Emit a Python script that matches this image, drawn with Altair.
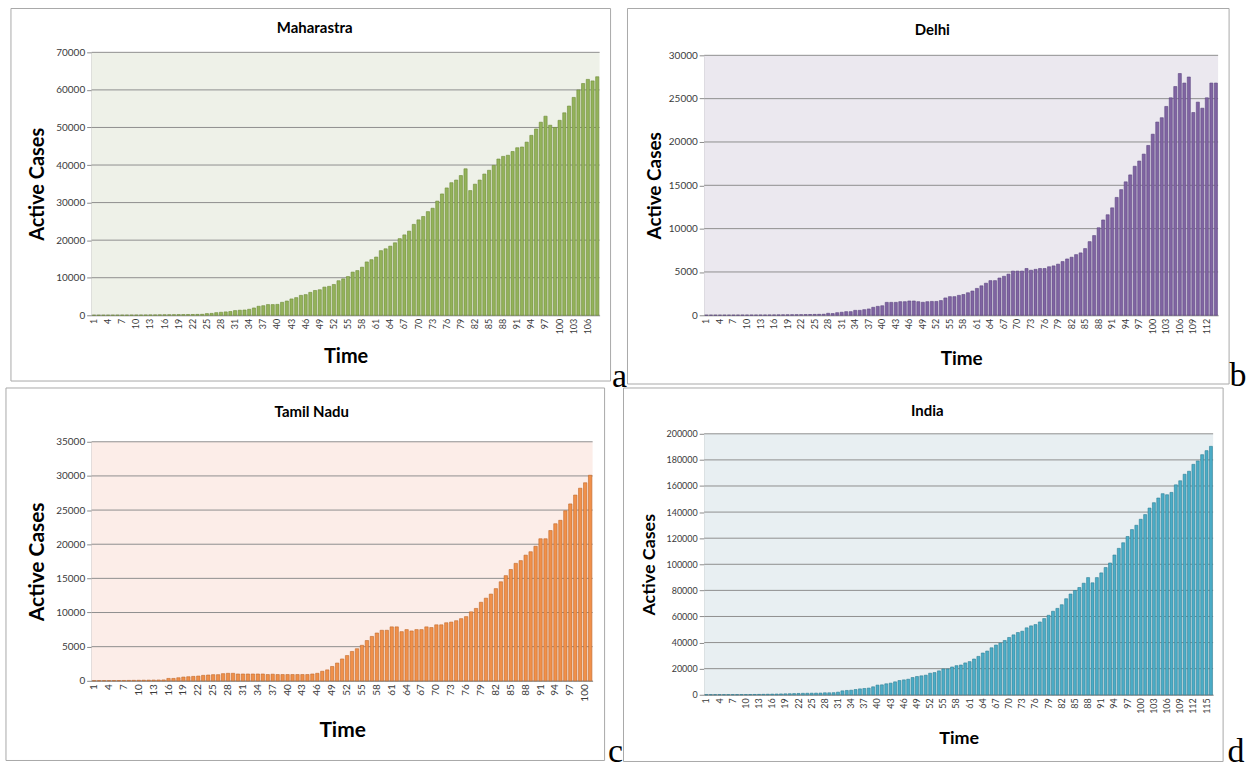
import altair as alt
import pandas as pd

# Daily active cases, one value per day since the first case
maharashtra = [
    10, 12, 15, 20, 25, 30, 35, 40, 45, 55, 65, 75, 90, 100, 115, 125, 140, 150, 165, 180, 195, 210, 230, 260,
    450, 500, 700, 800, 900, 1000, 1250, 1350, 1400, 1600, 1950, 2400, 2550, 2850, 2850, 2900, 3450, 3800, 4350, 4700,
    5300, 5500, 6100, 6600, 6800, 7500, 7700, 8200, 9200, 9700, 10300, 11500, 11900, 12800, 14200,
    14800, 15500, 17200, 17700, 18400, 19300, 20400, 21400, 22400, 24200, 25400, 26300, 27600, 28500, 30400,
    32300, 33900, 35300, 36000, 37200, 39000, 33200, 34900, 36000, 37600, 38600, 39900, 41600, 42300, 42600,
    43600, 44600, 44800, 46100, 47900, 49600, 51400, 53000, 50600, 50000, 51900, 53900, 55700, 58000, 60000,
    61700, 62800, 62400, 63500,
]
delhi = [
    10, 10, 12, 12, 15, 15, 18, 20, 22, 25, 25, 28, 30, 32, 35, 40, 45, 50, 55, 60, 65, 70, 80, 90, 100, 110, 120,
    230, 200, 300, 350, 420, 420, 570, 570, 650, 730, 920, 1030, 1100, 1490, 1490, 1490, 1570, 1570, 1650, 1650,
    1570, 1500, 1570, 1600, 1600,
    1700, 2000, 2150, 2150, 2300, 2400, 2600, 2800, 3100, 3400, 3700, 4000, 4000, 4300, 4500, 4750, 5100, 5100,
    5100, 5400, 5200, 5300, 5400, 5400, 5600, 5700, 5900, 6200, 6500, 6700, 7000, 7200, 7700, 8500, 9200, 10100,
    11000, 11600, 12400, 13600, 14500, 15400, 16200, 17200, 17800, 18600, 19600, 20900, 22300, 22800, 24100,
    25100, 26400, 27900, 26800, 27500, 23400, 24600, 23900, 25100, 26800, 26800,
]
tamil_nadu = [
    15, 20, 25, 30, 35, 40, 50, 60, 70, 80, 90, 100, 110, 120, 130,
    350, 350, 450, 550, 600, 650, 700, 800, 850, 900, 900, 1050, 1100, 1100, 1000, 1000, 1000, 1000, 1000, 1000,
    920, 970, 920, 920, 920, 920, 920,
    920, 920, 1000, 1100, 1400, 1600, 2100, 2600, 3200, 3700, 4300, 4700, 5200, 5900, 6500, 7000, 7400, 7400,
    7900, 7900, 7200, 7500, 7300, 7500, 7500, 7900, 7800, 8200, 8200, 8500, 8600, 8800, 9100, 9400, 10100, 10600,
    11500, 12100, 12700, 13500, 14500, 15400, 16300, 17200, 17600, 18400, 18900, 19700, 20800, 20800, 22000,
    23000, 23500, 24900, 25900, 27200, 28200, 29000, 30100,
]
india = [
    30, 40, 50, 60, 70, 80, 100, 110, 130, 150, 180, 220, 280, 330, 400, 480, 560, 640, 720, 800, 900, 1000,
    1100, 1150, 1200, 1250,
    1300, 1500, 1500, 1600, 2000, 3000, 3300, 3500, 4000, 4500, 4800, 5100, 6100, 7400, 7600, 8400, 8900, 9900,
    10900, 11400, 11900, 13200, 14000,
    14500, 15000, 16500, 17000, 18300, 19800, 19800, 21300, 22300, 22800, 24400, 25400, 27400, 29400, 32000,
    33500, 36000, 38100, 39600, 41600, 43900, 45900, 47700, 48700, 51300, 52800, 53800, 55800, 58400, 60900,
    64000, 66200, 69000, 73600, 77200, 79900, 82200, 85500, 89800, 85800, 89800, 93400, 97500, 101000, 107100,
    112200, 116500, 121300, 126600, 129900, 134500, 138100, 143100, 147200, 150800, 154100, 153300, 155100,
    160900, 164000, 169000, 171300, 176600, 179200, 184000, 187100, 190400,
]

FONT = "Lato"
GRID = "#8e8e8e"
AXIS = "#8a8a8a"
LABEL = "#3a3a3a"
FRAME = "#a8a8a8"


def panel(name, values, fill, edge, bg, ymax, ystep, width, height, top,
          title_size, label_size, xlabel_size, ytitle_pad, xtitle_pad, frame, title_xy, letter, letter_xy):
    n = len(values)
    days = pd.DataFrame({"Time": list(range(1, n + 1)), "Active Cases": values})
    ticks = list(range(0, ymax + 1, ystep))
    one = pd.DataFrame({"k": [0]})
    yscale = alt.Scale(domain=[0, ymax], range=[height, top], nice=False)
    yaxis = alt.Axis(
        values=ticks, format="d", grid=False, domainColor=AXIS, tickColor=AXIS, tickSize=5,
        labelFont=FONT, labelFontSize=label_size, labelColor=LABEL, labelPadding=2,
        title="Active Cases", titleFont=FONT, titleFontSize=title_size, titleFontWeight="bold",
        titleColor="black", titlePadding=ytitle_pad,
    )

    background = alt.Chart(one).mark_rect(fill=bg).encode(
        x=alt.value(0), x2=alt.value(width), y=alt.value(top), y2=alt.value(height)
    )
    grid = alt.Chart(pd.DataFrame({"tick": ticks})).mark_rule(color=GRID, strokeWidth=1).encode(
        y=alt.Y("tick:Q", scale=yscale, axis=yaxis),
        x=alt.value(0), x2=alt.value(width),
    )
    bars = alt.Chart(days).mark_bar(fill=fill, stroke=edge, strokeWidth=0.6).encode(
        x=alt.X(
            "Time:O",
            scale=alt.Scale(paddingInner=0.32, paddingOuter=0.16),
            axis=alt.Axis(
                values=list(range(1, n + 1, 3)), labelAngle=270, labelFont=FONT, labelFontSize=xlabel_size,
                labelColor=LABEL, labelPadding=3, labelOverlap=False, ticks=False, grid=False,
                domainColor=AXIS, title="Time", titleFont=FONT, titleFontSize=title_size,
                titleFontWeight="bold", titleColor="black", titlePadding=xtitle_pad,
            ),
        ),
        y=alt.Y("Active Cases:Q", scale=yscale, axis=yaxis),
    )
    border = alt.Chart(one).mark_rect(fillOpacity=0, stroke=FRAME, strokeWidth=1).encode(
        x=alt.value(frame[0]), y=alt.value(frame[1]), x2=alt.value(frame[2]), y2=alt.value(frame[3])
    )
    heading = alt.Chart(one).mark_text(
        text=name, font=FONT, fontWeight="bold", fontSize=15, color="black", align="center", baseline="middle"
    ).encode(x=alt.value(title_xy[0]), y=alt.value(title_xy[1]))
    tag = alt.Chart(one).mark_text(
        text=letter, font="Liberation Serif", fontSize=34, color="black", align="center", baseline="alphabetic"
    ).encode(x=alt.value(letter_xy[0]), y=alt.value(letter_xy[1]))
    return alt.layer(background, grid, bars, border, heading, tag).properties(width=width, height=height)


a = panel("Maharastra", maharashtra, "#93b25a", "#6c8a36", "#eef1e8", 70000, 10000, 510, 264, 0,
          20, 10, 9, 8, 13, (-81, -44, 521, 330), (224, -24), "a", (530, 336))
b = panel("Delhi", delhi, "#8064a2", "#5c4580", "#ebe8ef", 30000, 5000, 516, 264, 3,
          19, 10, 9, 4, 16, (-77, -44, 527, 333), (229, -22), "b", (536, 335))
c = panel("Tamil Nadu", tamil_nadu, "#f0904a", "#c0692a", "#fcede8", 35000, 5000, 503, 248, 8,
          21, 10, 10, 8, 19, (-86, -46, 515, 328), (221, -22), "c", (526, 330))
d = panel("India", india, "#4bacc6", "#2d7f95", "#e8eff2", 200000, 20000, 511, 262, 0,
          18, 9, 9, 8, 16, (-81, -46, 521, 329), (224, -23), "d", (534, 330))

chart = (
    alt.concat(a, b, c, d, columns=2, spacing={"row": 119, "column": 105}, bounds="flush")
    .properties(padding={"left": 5, "top": 6, "right": 2, "bottom": 0}, background="white")
    .configure_view(strokeWidth=0)
)
chart.save("out.html", embed_options={"renderer": "svg", "actions": False})
